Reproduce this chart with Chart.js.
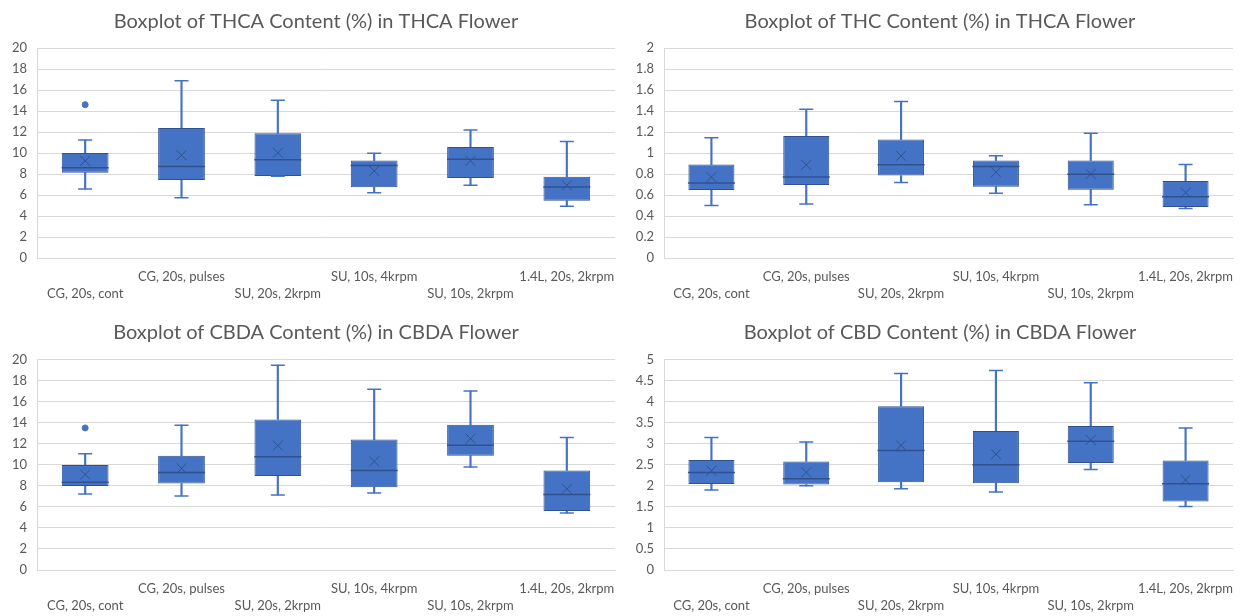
<!DOCTYPE html>
<html>
<head>
<meta charset="utf-8">
<script src="https://cdn.jsdelivr.net/npm/chart.js@4/dist/chart.umd.min.js"></script>
<style>
  html, body { margin: 0; padding: 0; background: #ffffff; }
  body { width: 1244px; height: 616px; position: relative; overflow: hidden; }
  canvas { position: absolute; }
</style>
</head>
<body>
<canvas id="thca" width="640" height="310" style="left:0;top:0;width:640px;height:310px"></canvas>
<canvas id="thc" width="636" height="310" style="left:622px;top:0;width:636px;height:310px"></canvas>
<canvas id="cbda" width="640" height="306" style="left:0;top:310px;width:640px;height:306px"></canvas>
<canvas id="cbd" width="636" height="306" style="left:622px;top:310px;width:636px;height:306px"></canvas>
<script>
// Processing conditions (x categories)
const categories = ['CG, 20s, cont', 'CG, 20s, pulses', 'SU, 20s, 2krpm', 'SU, 10s, 4krpm', 'SU, 10s, 2krpm', '1.4L, 20s, 2krpm'];

// THCA content (%) in THCA flower
const thcaMin    = [6.57, 5.74, 7.78, 6.22, 6.92, 4.94];
const thcaQ1     = [8.13, 7.43, 7.81, 6.73, 7.62, 5.45];
const thcaMedian = [8.60, 8.71, 9.35, 8.80, 9.41, 6.76];
const thcaQ3     = [10.00, 12.38, 11.87, 9.28, 10.56, 7.75];
const thcaMax    = [11.23, 16.87, 15.02, 9.98, 12.18, 11.10];
const thcaMean   = [9.25, 9.79, 10.02, 8.29, 9.25, 6.92];
const thcaOutlier = [14.6, null, null, null, null, null];

// THC content (%) in THCA flower
const thcMin    = [0.500, 0.514, 0.718, 0.616, 0.507, 0.472];
const thcQ1     = [0.648, 0.695, 0.785, 0.679, 0.651, 0.485];
const thcMedian = [0.715, 0.772, 0.887, 0.871, 0.797, 0.584];
const thcQ3     = [0.890, 1.161, 1.129, 0.928, 0.928, 0.734];
const thcMax    = [1.145, 1.416, 1.490, 0.973, 1.187, 0.890];
const thcMean   = [0.770, 0.887, 0.973, 0.817, 0.800, 0.622];
const thcOutlier = [null, null, null, null, null, null];

// CBDA content (%) in CBDA flower
const cbdaMin    = [7.23, 7.04, 7.13, 7.32, 9.78, 5.41];
const cbdaQ1     = [7.99, 8.22, 8.92, 7.87, 10.86, 5.60];
const cbdaMedian = [8.34, 9.27, 10.76, 9.46, 11.85, 7.17];
const cbdaQ3     = [9.97, 10.86, 14.30, 12.39, 13.79, 9.46];
const cbdaMax    = [11.05, 13.76, 19.46, 17.17, 17.00, 12.58];
const cbdaMean   = [9.08, 9.65, 11.82, 10.32, 12.48, 7.71];
const cbdaOutlier = [13.5, null, null, null, null, null];

// CBD content (%) in CBDA flower
const cbdMin    = [1.900, 2.000, 1.930, 1.855, 2.390, 1.510];
const cbdQ1     = [2.040, 2.030, 2.086, 2.060, 2.540, 1.630];
const cbdMedian = [2.317, 2.166, 2.840, 2.500, 3.060, 2.050];
const cbdQ3     = [2.610, 2.580, 3.890, 3.300, 3.420, 2.600];
const cbdMax    = [3.145, 3.040, 4.670, 4.740, 4.450, 3.370];
const cbdMean   = [2.360, 2.320, 2.960, 2.750, 3.090, 2.140];
const cbdOutlier = [null, null, null, null, null, null];

// Y tick labels
const pctTicks20 = ['0', '2', '4', '6', '8', '10', '12', '14', '16', '18', '20'];
const pctTicks2  = ['0', '0.2', '0.4', '0.6', '0.8', '1', '1.2', '1.4', '1.6', '1.8', '2'];
const pctTicks5  = ['0', '0.5', '1', '1.5', '2', '2.5', '3', '3.5', '4', '4.5', '5'];

const FONT = "Lato, 'Open Sans', sans-serif";
const TEXT = '#595959';
const GRID = '#D9D9D9';
const BOX = '#4472C4';
const DARK = '#2F528F';

Chart.defaults.font.family = FONT;
Chart.defaults.color = TEXT;
Chart.defaults.animation = false;

// Alternate the category labels between two rows, as the axis staggers them
const staggered = categories.map((c, i) => (i % 2 === 0 ? ['', c] : [c, '']));

function boxplot(id, opt) {
  const boxes = opt.q1.map((v, i) => [v, opt.q3[i]]);
  const upper = opt.q3.map((v, i) => [v, opt.max[i]]);
  const lower = opt.min.map((v, i) => [v, opt.q1[i]]);
  const marker = (data, style, radius, color, width, order, fill) => ({
    type: 'line', data, showLine: false, order,
    pointStyle: style, pointRadius: radius, pointHoverRadius: radius,
    pointBorderColor: color, pointBackgroundColor: fill || color,
    pointBorderWidth: width
  });
  const whisker = (data) => ({
    type: 'bar', data, grouped: false, order: 3,
    barThickness: 1.5, backgroundColor: BOX, borderWidth: 0
  });
  return new Chart(document.getElementById(id), {
    data: {
      labels: staggered,
      datasets: [
        whisker(upper),
        whisker(lower),
        {
          type: 'bar', data: boxes, grouped: false, order: 2,
          barPercentage: 0.485, categoryPercentage: 1,
          backgroundColor: BOX, borderColor: DARK, borderWidth: 1, borderSkipped: false
        },
        marker(opt.max, 'line', 7, BOX, 1.5, 1),
        marker(opt.min, 'line', 7, BOX, 1.5, 1),
        marker(opt.median, 'line', 23.5, DARK, 1.5, 0),
        marker(opt.mean, 'crossRot', 7, DARK, 1, 0),
        marker(opt.outlier, 'circle', 3, BOX, 1, 0, BOX)
      ]
    },
    options: {
      responsive: false,
      events: [],
      layout: { padding: { left: 0, right: opt.padR, top: 0, bottom: 0 } },
      plugins: {
        legend: { display: false },
        tooltip: { enabled: false },
        title: {
          display: true, text: opt.title, color: TEXT,
          font: { family: FONT, size: 20, weight: 'normal' },
          padding: { top: opt.titleTop, bottom: opt.titleBottom }
        }
      },
      scales: {
        x: {
          type: 'category',
          offset: true,
          grid: { display: false, drawTicks: false },
          border: { display: true, color: GRID, width: 1 },
          ticks: {
            autoSkip: false, maxRotation: 0, minRotation: 0, padding: 10,
            color: TEXT, font: { family: FONT, size: 13, lineHeight: '17px' }
          },
          afterFit: (s) => { s.height = opt.xH; }
        },
        y: {
          min: 0, max: opt.yMax,
          grid: { color: GRID, lineWidth: 1, drawTicks: false },
          border: { display: true, color: GRID, width: 1 },
          ticks: {
            stepSize: opt.step, padding: 10, color: TEXT,
            font: { family: FONT, size: 13 },
            callback: (v, i) => opt.ticks[i]
          },
          afterFit: (s) => { s.width = opt.yW; }
        },
        // blank margin on the right so the title sits over the whole chart box
        yRight: {
          axis: 'y', position: 'right', min: 0, max: opt.yMax,
          grid: { display: false, drawTicks: false },
          border: { display: false },
          ticks: { display: false },
          afterFit: (s) => { s.width = opt.rightGap; }
        }
      }
    }
  });
}

const upperRow = { titleTop: 10, titleBottom: 14, xH: 52 };
const lowerRow = { titleTop: 11, titleBottom: 14.5, xH: 46 };

boxplot('thca', Object.assign({
  title: 'Boxplot of THCA Content (%) in THCA Flower',
  min: thcaMin, q1: thcaQ1, median: thcaMedian, q3: thcaQ3, max: thcaMax, mean: thcaMean, outlier: thcaOutlier,
  yMax: 20, step: 2, ticks: pctTicks20, yW: 37, rightGap: 14, padR: 8
}, upperRow));

boxplot('thc', Object.assign({
  title: 'Boxplot of THC Content (%) in THCA Flower',
  min: thcMin, q1: thcQ1, median: thcMedian, q3: thcQ3, max: thcMax, mean: thcMean, outlier: thcOutlier,
  yMax: 2, step: 0.2, ticks: pctTicks2, yW: 42, rightGap: 16, padR: 0
}, upperRow));

boxplot('cbda', Object.assign({
  title: 'Boxplot of CBDA Content (%) in CBDA Flower',
  min: cbdaMin, q1: cbdaQ1, median: cbdaMedian, q3: cbdaQ3, max: cbdaMax, mean: cbdaMean, outlier: cbdaOutlier,
  yMax: 20, step: 2, ticks: pctTicks20, yW: 37, rightGap: 14, padR: 8
}, lowerRow));

boxplot('cbd', Object.assign({
  title: 'Boxplot of CBD Content (%) in CBDA Flower',
  min: cbdMin, q1: cbdQ1, median: cbdMedian, q3: cbdQ3, max: cbdMax, mean: cbdMean, outlier: cbdOutlier,
  yMax: 5, step: 0.5, ticks: pctTicks5, yW: 42, rightGap: 16, padR: 0
}, lowerRow));
</script>
</body>
</html>
